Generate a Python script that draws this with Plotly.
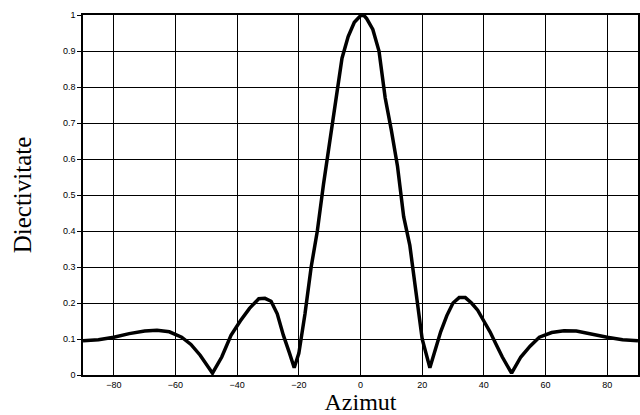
import plotly.graph_objects as go

azimut = [-90, -85, -80, -75, -70, -66, -62, -58, -55, -52, -48, -45, -42, -39, -36, -33, -31, -29, -27, -25,
          -23, -21.5, -20, -18, -16, -14, -12, -10, -8, -6, -4, -2, 0, 1, 2, 4, 6, 8, 10, 12, 14, 16, 18, 20,
          22.5, 24, 26, 28, 30, 32, 34, 36, 38, 40, 42, 44, 46, 49, 52, 55, 58, 62, 66, 70, 75, 80, 85, 90]
directivitate = [0.095, 0.098, 0.105, 0.115, 0.122, 0.124, 0.12, 0.105, 0.085, 0.055, 0.005, 0.05, 0.11, 0.15,
                 0.185, 0.212, 0.213, 0.205, 0.17, 0.11, 0.06, 0.02, 0.06, 0.17, 0.30, 0.40, 0.53, 0.65, 0.76,
                 0.88, 0.94, 0.98, 0.998, 1.0, 0.99, 0.96, 0.90, 0.77, 0.68, 0.58, 0.44, 0.36, 0.23, 0.10,
                 0.02, 0.06, 0.12, 0.165, 0.20, 0.215, 0.215, 0.20, 0.18, 0.15, 0.12, 0.085, 0.05, 0.005,
                 0.05, 0.08, 0.105, 0.118, 0.123, 0.122, 0.113, 0.105, 0.098, 0.095]

x_ticks = [-80, -60, -40, -20, 0, 20, 40, 60, 80]
y_ticks = [0, 0.1, 0.2, 0.3, 0.4, 0.5, 0.6, 0.7, 0.8, 0.9, 1]
y_ticktext = ["0", "0.1", "0.2", "0.3", "0.4", "0.5", "0.6", "0.7", "0.8", "0.9", "1"]

fig = go.Figure()
fig.add_trace(go.Scatter(x=azimut, y=directivitate, mode="lines",
                         line=dict(color="black", width=3.5), showlegend=False))

tickfont = dict(family="Liberation Sans, Arial, sans-serif", size=9, color="black")
xtitlefont = dict(family="Liberation Serif, Times New Roman, serif", size=24, color="black")
ytitlefont = dict(family="Liberation Serif, Times New Roman, serif", size=25, color="black")

fig.update_layout(
    width=640, height=415,
    margin=dict(l=83, r=0, t=15, b=40),
    paper_bgcolor="white", plot_bgcolor="white",
    xaxis=dict(range=[-90, 90], tickvals=x_ticks, ticks="", tickfont=tickfont,
               showgrid=True, gridcolor="black", gridwidth=1, zeroline=False,
               showline=True, linecolor="black", linewidth=1.5, mirror=True,
               title=dict(text="Azimut", font=xtitlefont, standoff=0)),
    yaxis=dict(range=[0, 1], tickvals=y_ticks, ticktext=y_ticktext, ticks="outside",
               ticklen=4, tickcolor="black", tickfont=tickfont,
               showgrid=True, gridcolor="black", gridwidth=1, zeroline=False,
               showline=True, linecolor="black", linewidth=1.5, mirror=True,
               title=dict(text="Diectivitate", font=ytitlefont, standoff=24)),
)

fig.write_html("out.html")
